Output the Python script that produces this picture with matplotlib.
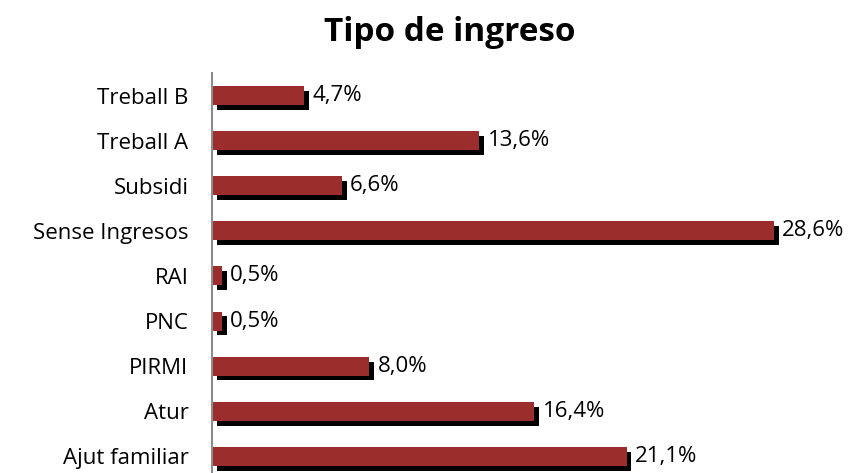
import matplotlib
matplotlib.use('Agg')
import matplotlib.pyplot as plt
import matplotlib.transforms as mtransforms

# Datos (de arriba a abajo)
categories = ['Treball B', 'Treball A', 'Subsidi', 'Sense Ingresos', 'RAI',
              'PNC', 'PIRMI', 'Atur', 'Ajut familiar']
values = [4.7, 13.6, 6.6, 28.6, 0.5, 0.5, 8.0, 16.4, 21.1]
value_labels = ['4,7%', '13,6%', '6,6%', '28,6%', '0,5%', '0,5%', '8,0%', '16,4%', '21,1%']

plt.rcParams['font.family'] = ['Open Sans', 'DejaVu Sans']

W, H = 853, 473
fig = plt.figure(figsize=(W / 100, H / 100), dpi=100)
# ejes: izquierda en x=212 px, arriba en y=73 px, 45 px por categoria
ax = fig.add_axes([212 / W, (H - 73 - 9 * 45.1) / H, 19.65 * 30 / W, 9 * 45.1 / H])

pos = list(range(len(categories)))

# sombra negra desplazada
shadow = mtransforms.ScaledTranslation(3.5 / 72, -3.5 / 72, fig.dpi_scale_trans)
ax.barh(pos, values, height=0.42, color='black', transform=ax.transData + shadow, zorder=1)
ax.barh(pos, values, height=0.42, color='#9b2d2d', zorder=2)

for p, v, lab in zip(pos, values, value_labels):
    ax.annotate(lab, (v, p), xytext=(6, 0), textcoords='offset points',
                va='center', ha='left', fontsize=16, color='black')

ax.set_xlim(0, 30)
ax.set_ylim(len(categories) - 0.5, -0.5)
ax.set_yticks(pos)
ax.set_yticklabels(categories, fontsize=16)
ax.tick_params(axis='y', length=0, pad=17)
ax.set_xticks([])
for s in ['top', 'right', 'bottom']:
    ax.spines[s].set_visible(False)
ax.spines['left'].set_color('#8c8c8c')
ax.spines['left'].set_linewidth(1.5)

fig.text(450 / W, 1 - 41 / H, 'Tipo de ingreso', ha='center', va='baseline',
         fontsize=24, fontweight='bold')

fig.savefig('out.png', dpi=100)
